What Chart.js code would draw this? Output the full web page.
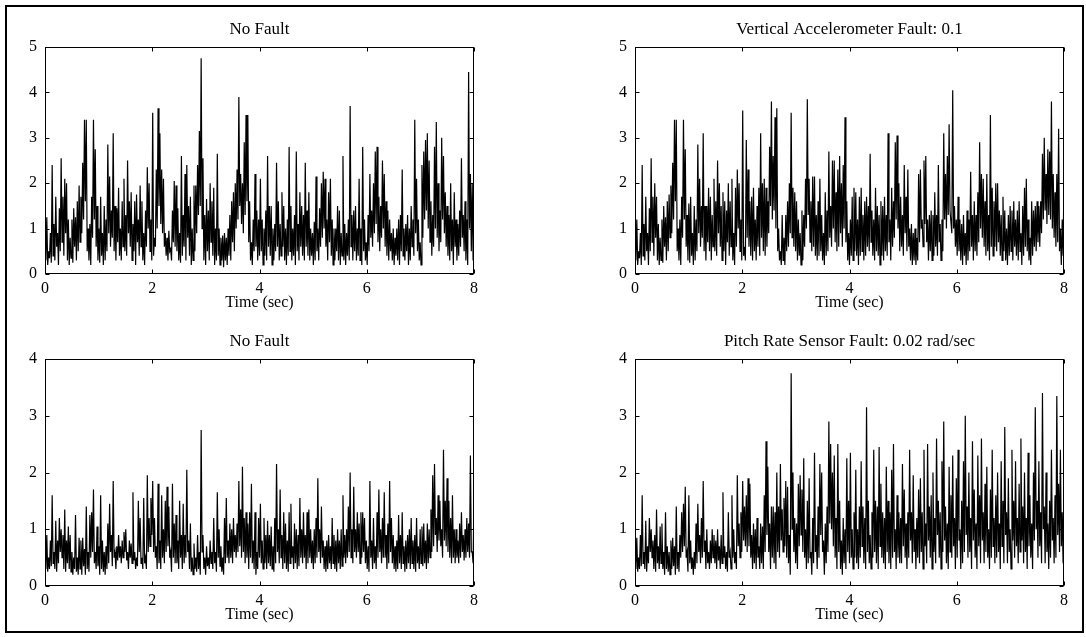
<!DOCTYPE html>
<html><head><meta charset="utf-8">
<script src="https://cdn.jsdelivr.net/npm/chart.js@4.4.1/dist/chart.umd.min.js"></script>
<style>
html,body{margin:0;padding:0;background:#fff;}
#fig{position:relative;width:1086px;height:637px;overflow:hidden;background:#fff;}
#frame{position:absolute;left:5px;top:5px;width:1075px;height:624px;border:2px solid #000;}
.pane{position:absolute;width:496px;height:318px;}
</style></head><body>
<div id="fig"><div id="frame"></div>
<div class="pane" style="left:0;top:0"><canvas id="c1" width="496" height="318"></canvas></div>
<div class="pane" style="left:590px;top:0"><canvas id="c2" width="496" height="318"></canvas></div>
<div class="pane" style="left:0;top:312px"><canvas id="c3" width="496" height="318"></canvas></div>
<div class="pane" style="left:590px;top:312px"><canvas id="c4" width="496" height="318"></canvas></div>
</div>
<script>
// ---- data ----
const timeStart = 0, timeEnd = 8;
const xTickValues = [0, 2, 4, 6, 8];
const yTicksTop = [0, 1, 2, 3, 4, 5];
const yTicksBottom = [0, 1, 2, 3, 4];
const panelTitles = ['No Fault', 'Vertical Accelerometer Fault: 0.1', 'No Fault', 'Pitch Rate Sensor Fault: 0.02 rad/sec'];
const xAxisTitle = 'Time (sec)';

const noFaultTop = [
0.7,0.3,1.25,0.2,0.5,0.35,0.9,0.25,2.4,0.4,1.1,0.3,1.7,0.6,0.9,0.2,1.45,0.5,2.55,0.7,1.7,0.4,2.1,0.9,2.0,0.3,1.2,0.2,0.8,0.35,1.2,0.25,1.45,0.6,1.25,0.3,1.6,0.5,1.95,0.7,1.7,0.9,2.45,1.2,3.4,1.6,3.4,0.5,1.0,0.3,1.1,0.2,1.7,0.8,3.4,1.2,2.75,0.6,1.5,0.3,1.0,0.25,1.7,0.4,0.9,0.2,1.5,0.3,1.2,0.5,2.85,0.9,2.15,0.6,1.4,0.8,3.1,0.5,1.5,0.3,1.45,0.7,1.9,0.4,1.0,0.3,1.6,0.6,2.1,0.5,1.3,0.4,2.5,0.9,1.6,0.6,1.8,0.3,1.1,0.5,1.6,0.2,1.75,0.7,1.2,0.4,1.95,0.6,1.6,0.3,0.9,0.2,1.4,0.6,2.35,1.0,2.0,0.5,1.2,0.3,3.55,0.4,0.8,0.6,2.3,1.0,3.65,1.5,3.1,1.1,2.3,0.9,2.1,0.6,0.9,0.4,0.8,0.3,0.95,0.5,0.55,0.3,1.4,0.7,2.05,0.6,
1.95,0.5,1.45,0.3,0.9,0.25,2.6,0.4,1.3,0.6,2.2,0.3,2.4,0.8,1.5,0.4,1.7,0.2,1.0,0.3,1.95,0.5,1.95,0.9,2.4,1.3,3.15,1.5,4.75,1.0,2.55,0.3,1.3,0.2,1.65,0.5,1.4,0.3,2.0,0.7,1.6,0.4,1.9,0.2,1.0,0.3,2.65,0.4,1.0,0.2,0.8,0.3,0.85,0.15,0.9,0.3,0.8,0.2,1.0,0.4,1.3,0.3,1.6,0.7,1.8,0.5,2.0,1.0,2.3,1.2,3.9,1.5,2.2,1.1,2.0,0.9,2.9,1.3,3.5,1.6,3.5,0.7,1.6,0.3,0.7,0.2,1.2,0.5,2.2,0.6,1.4,0.3,1.2,0.4,2.1,0.5,1.2,0.2,1.0,0.4,1.4,0.3,2.6,0.6,1.5,0.4,1.5,0.2,1.0,0.3,1.1,0.5,2.45,0.6,1.6,0.3,1.1,0.4,1.8,0.6,1.5,0.3,1.0,0.2,1.2,0.4,2.8,0.5,1.5,0.3,1.0,0.4,1.3,0.2,2.7,0.5,1.1,0.3,1.8,0.6,1.5,0.4,1.3,0.3,2.45,0.6,1.4,0.4,1.8,0.3,
1.0,0.4,0.9,0.2,1.15,0.3,2.15,0.5,1.0,0.3,1.45,0.6,2.0,0.8,2.25,1.0,2.1,0.6,1.2,0.3,1.8,0.7,2.1,0.4,1.2,0.2,1.0,0.3,1.0,0.5,1.5,0.3,1.4,0.2,0.9,0.4,2.6,0.3,1.1,0.2,0.9,0.4,1.2,0.3,3.7,0.6,1.3,0.3,1.4,0.5,1.5,0.3,1.0,0.4,2.1,0.3,1.0,0.2,2.8,0.5,1.2,0.3,0.7,0.2,1.3,0.5,2.2,0.8,1.4,0.6,2.0,0.9,2.7,1.1,2.8,0.7,1.7,0.5,1.5,0.8,2.5,1.0,2.2,0.6,1.6,0.4,1.4,0.3,1.2,0.5,0.9,0.3,1.0,0.2,0.8,0.4,1.0,0.3,1.2,0.2,1.3,0.5,2.3,0.4,1.0,0.3,1.1,0.5,1.3,0.2,1.0,0.3,1.5,0.6,1.2,0.4,3.4,0.9,2.1,0.5,1.2,0.3,0.7,0.2,2.4,0.8,2.7,1.2,2.95,1.4,3.1,1.0,2.5,0.7,1.6,0.4,1.3,0.6,2.8,1.0,3.35,0.8,2.0,0.5,1.4,0.7,3.0,1.2,2.6,0.9,1.8,0.6,1.5,0.4,1.3,0.3,2.0,0.5,1.2,0.2,1.8,0.6,1.2,0.3,1.1,0.4,1.4,0.6,2.55,0.8,1.3,0.5,1.6,0.3,1.2,0.2,4.45,1.0,2.2,0.5,2.0,0.3,1.3
];

const accelFault = [
0.7,0.3,1.2,0.2,0.5,0.35,0.9,0.2,2.4,0.4,1.1,0.3,1.7,0.5,0.9,0.2,1.45,0.5,2.55,0.7,1.7,0.4,2.0,0.8,1.7,0.3,1.1,0.2,0.8,0.3,1.2,0.25,1.5,0.6,1.25,0.3,1.6,0.5,1.75,0.8,1.95,0.9,2.45,1.2,3.4,1.6,3.4,0.5,1.0,0.3,1.2,0.2,1.7,0.8,3.4,1.2,2.75,0.6,1.3,0.3,1.55,0.25,1.7,0.4,0.9,0.2,1.5,0.3,1.2,0.5,2.85,0.9,2.1,0.6,1.5,0.8,3.1,0.5,1.5,0.3,1.5,0.7,1.9,0.5,1.7,0.3,1.3,0.6,2.1,0.5,1.6,0.4,2.5,0.9,2.0,0.6,1.5,0.3,1.8,0.5,1.6,0.2,1.4,0.7,2.0,0.4,1.6,0.6,2.1,0.3,0.9,0.2,1.9,0.6,2.3,1.0,2.0,0.5,1.2,0.3,3.6,0.4,0.6,0.3,2.95,0.8,2.3,0.6,1.6,0.4,1.7,0.3,1.9,0.5,1.2,0.3,1.5,0.6,1.9,0.4,3.1,0.8,2.0,0.5,2.1,0.4,
1.9,0.6,1.6,0.9,2.8,1.5,3.8,1.2,2.6,1.4,3.45,1.0,3.65,0.5,1.0,0.3,0.5,0.2,1.3,0.3,0.8,0.2,1.3,0.5,1.6,0.6,2.0,0.9,3.55,0.8,1.9,0.6,1.8,0.5,1.6,0.3,1.2,0.4,0.9,0.2,1.4,0.3,1.3,0.6,2.1,1.0,3.85,1.3,2.1,0.7,1.6,0.5,2.15,0.6,2.15,0.4,1.3,0.3,1.6,0.4,2.1,0.5,1.3,0.3,0.9,0.2,1.8,0.4,1.4,0.5,2.7,0.8,1.5,0.6,2.5,1.0,2.5,0.7,1.8,0.5,2.3,0.6,2.6,0.9,2.0,0.6,2.4,1.0,3.45,0.7,1.6,0.3,0.9,0.2,1.2,0.4,1.7,0.3,1.9,0.5,1.8,0.4,1.2,0.2,1.7,0.4,1.9,0.5,1.3,0.3,1.6,0.4,1.7,0.6,1.5,0.5,2.65,0.7,1.4,0.4,1.2,0.3,1.9,0.5,1.5,0.4,1.3,0.2,1.6,0.4,1.5,0.3,1.7,0.5,1.3,0.4,3.1,0.7,1.2,0.3,1.9,0.6,1.6,0.8,2.9,1.2,3.05,1.0,2.0,0.5,
1.7,0.6,1.3,0.4,2.4,0.9,1.7,0.5,2.3,0.6,1.0,0.3,1.1,0.2,0.9,0.3,1.0,0.2,0.8,0.3,2.2,0.7,2.3,1.0,1.2,0.6,2.5,1.1,2.6,0.7,1.2,0.3,1.3,0.5,1.4,0.3,1.3,0.4,1.8,0.6,1.3,0.4,2.4,0.7,1.1,0.3,1.2,0.5,3.1,1.2,2.2,1.0,2.6,1.3,3.3,1.4,1.4,0.9,4.05,1.0,1.5,0.6,1.2,0.4,1.7,0.5,1.2,0.3,1.1,0.2,1.3,0.4,0.9,0.2,1.4,0.3,1.2,0.5,2.25,0.6,1.3,0.3,1.6,0.5,1.3,0.4,1.8,0.7,2.9,1.0,2.2,0.8,2.1,0.6,1.6,0.4,2.2,0.5,1.3,0.3,3.5,0.6,1.9,0.4,1.6,0.6,2.0,0.5,2.0,0.7,1.4,0.4,1.3,0.3,1.7,0.5,1.4,0.3,1.0,0.2,1.3,0.4,1.5,0.5,1.4,0.3,1.6,0.6,1.2,0.4,1.4,0.3,1.6,0.5,0.9,0.2,1.5,0.4,1.9,0.6,2.1,0.5,1.2,0.3,0.8,0.2,1.6,0.4,1.4,0.6,1.5,0.5,1.6,0.7,1.5,0.6,1.6,0.9,2.65,1.2,3.0,1.4,2.2,1.1,2.75,1.3,2.7,1.2,3.8,1.0,2.2,0.8,1.8,0.6,2.2,0.7,3.2,0.5,1.0,0.2,1.2,0.4,2.2
];

const noFaultBottom = [
0.45,0.3,0.9,0.25,0.5,0.3,0.8,0.35,1.6,0.4,0.6,0.3,1.15,0.25,0.8,0.4,1.2,0.6,1.0,0.5,0.9,0.3,1.35,0.25,0.8,0.4,1.05,0.3,0.9,0.25,0.6,0.2,0.5,0.3,1.25,0.25,0.5,0.2,0.85,0.3,0.8,0.2,0.85,0.35,0.65,0.2,1.4,0.3,0.6,0.25,1.25,0.5,1.3,0.6,1.7,0.4,0.6,0.3,1.05,0.35,0.7,0.2,1.6,0.3,0.8,0.25,0.6,0.2,0.7,0.3,1.1,0.4,1.45,0.6,0.9,0.35,1.85,0.5,0.6,0.3,0.7,0.45,0.9,0.5,0.7,0.4,0.8,0.5,0.95,0.6,1.0,0.45,0.6,0.3,0.8,0.5,0.75,0.4,1.65,0.45,0.6,0.3,0.5,0.35,1.5,0.6,1.2,0.4,0.5,0.3,1.55,0.4,0.5,0.3,1.95,0.6,1.2,0.7,1.55,0.9,1.85,0.6,1.2,0.5,0.7,0.3,1.8,0.4,0.8,0.3,1.6,0.5,1.0,0.4,1.5,0.6,1.75,0.7,1.4,0.5,0.6,0.25,1.8,0.5,1.1,0.4,
1.25,0.4,0.8,0.3,1.5,0.5,0.9,0.3,1.45,0.4,0.9,0.5,2.05,0.6,0.8,0.3,1.1,0.25,0.5,0.2,0.75,0.3,0.5,0.25,0.9,0.3,0.6,0.2,2.75,0.6,0.9,0.3,0.5,0.2,0.7,0.35,0.5,0.3,0.8,0.4,0.6,0.3,1.2,0.4,0.6,0.25,1.65,0.5,1.0,0.35,0.7,0.25,0.5,0.2,1.2,0.4,1.55,0.5,0.8,0.4,1.1,0.5,1.0,0.4,1.2,0.6,0.9,0.5,1.1,0.6,1.85,0.7,1.35,0.5,2.1,0.6,1.2,0.4,1.3,0.5,1.1,0.3,1.3,0.5,1.8,0.4,0.8,0.3,1.3,0.2,0.6,0.3,1.2,0.5,1.45,0.4,0.8,0.3,1.2,0.4,0.9,0.3,1.15,0.4,0.9,0.35,1.05,0.3,0.7,0.25,1.2,0.4,2.15,0.6,1.0,0.4,1.7,0.5,0.9,0.3,1.3,0.4,1.1,0.3,0.8,0.25,1.3,0.4,1.45,0.5,0.7,0.3,1.1,0.4,1.0,0.3,0.9,0.35,1.55,0.5,1.0,0.4,1.3,0.5,0.9,0.3,1.3,0.4,1.35,0.5,
1.0,0.4,0.8,0.3,1.0,0.4,1.2,0.5,1.9,0.6,1.0,0.4,1.4,0.5,0.8,0.3,0.7,0.25,0.8,0.3,0.9,0.4,0.7,0.3,1.2,0.4,0.9,0.3,0.8,0.25,1.0,0.4,0.8,0.3,1.0,0.35,1.6,0.5,0.9,0.4,1.0,0.5,1.4,0.6,2.0,0.5,1.0,0.4,1.75,0.6,1.0,0.5,1.3,0.6,1.1,0.4,1.3,0.5,1.3,0.6,1.2,0.4,0.8,0.3,0.7,0.25,1.85,0.5,0.8,0.3,1.2,0.4,0.7,0.3,1.3,0.5,1.7,0.6,1.0,0.4,1.2,0.5,1.65,0.5,0.9,0.3,1.1,0.4,1.85,0.6,1.2,0.4,0.9,0.3,0.7,0.25,0.8,0.3,1.25,0.4,0.9,0.3,1.3,0.4,0.7,0.25,0.8,0.3,0.9,0.4,1.0,0.3,1.2,0.4,0.8,0.3,0.9,0.25,1.2,0.4,0.7,0.3,1.0,0.4,1.05,0.35,1.1,0.4,0.8,0.3,1.1,0.4,1.0,0.5,1.35,0.6,1.95,0.7,2.15,0.9,1.2,0.6,1.6,0.8,1.5,0.7,1.0,0.5,2.4,0.8,1.5,0.7,1.9,0.6,1.5,0.5,1.2,0.4,1.6,0.5,1.0,0.4,1.0,0.5,0.8,0.4,1.1,0.5,1.3,0.6,0.9,0.45,1.0,0.5,1.2,0.6,1.1,0.5,2.3,0.6,0.6,0.4,1.6
];

const pitchFault = [
0.5,0.3,0.85,0.25,0.5,0.3,0.9,0.35,1.6,0.4,0.6,0.3,1.15,0.25,0.7,0.4,1.2,0.6,1.0,0.5,0.8,0.3,0.9,0.25,1.35,0.4,0.7,0.3,1.05,0.4,1.1,0.3,0.6,0.2,1.3,0.3,0.7,0.25,0.6,0.2,0.8,0.3,0.85,0.35,0.7,0.2,1.4,0.3,0.6,0.25,0.9,0.5,1.3,0.6,1.45,0.7,1.75,0.5,0.6,0.25,1.6,0.4,0.8,0.3,0.5,0.2,0.6,0.3,1.1,0.4,1.45,0.6,0.9,0.4,1.2,0.5,1.85,0.6,0.8,0.3,1.0,0.4,0.6,0.3,0.8,0.4,1.0,0.5,0.9,0.4,0.8,0.3,1.0,0.45,0.7,0.3,0.9,0.4,1.65,0.5,0.7,0.3,0.6,0.25,1.3,0.5,0.6,0.3,1.6,0.5,1.0,0.4,0.6,0.3,1.95,0.7,1.1,0.5,1.3,0.6,1.85,0.8,1.4,0.7,1.6,0.6,1.9,0.7,1.8,0.5,0.9,0.3,1.1,0.4,1.0,0.3,1.2,0.5,0.7,0.3,1.1,0.4,1.05,0.3,1.6,0.6,
2.55,0.9,2.1,0.6,1.1,0.3,1.4,0.5,1.4,0.4,1.3,0.3,2.0,0.6,1.4,0.5,2.15,0.8,1.35,0.6,1.55,0.7,1.85,0.5,1.75,0.4,0.9,0.2,3.75,1.0,2.0,0.6,1.2,0.4,1.1,0.3,1.8,0.7,1.95,0.9,1.7,0.6,2.25,0.5,1.0,0.3,1.5,0.4,1.9,0.5,0.6,0.2,1.2,0.4,2.35,0.6,0.9,0.3,1.4,0.5,2.15,0.9,2.0,0.6,0.8,0.2,1.1,0.4,1.4,0.6,2.9,1.1,2.5,1.0,2.0,0.7,2.3,0.5,1.2,0.3,2.5,0.6,1.5,0.3,0.8,0.2,1.2,0.4,1.0,0.3,2.25,0.6,1.5,0.4,2.35,0.5,1.0,0.3,1.3,0.5,2.05,0.4,1.0,0.3,1.4,0.5,2.2,0.7,1.4,0.4,1.2,0.3,3.15,0.6,1.5,0.4,0.9,0.3,1.3,0.5,2.4,0.6,1.5,0.4,1.4,0.3,2.45,0.7,1.8,0.5,1.3,0.4,1.2,0.3,2.1,0.6,1.5,0.4,1.3,0.3,2.05,0.5,2.5,0.6,1.0,0.3,1.6,0.5,1.3,0.4,
1.2,0.4,2.15,0.7,1.7,0.5,1.1,0.3,1.3,0.5,2.4,0.8,1.3,0.4,1.95,0.6,1.0,0.3,1.2,0.5,1.7,0.4,1.9,0.6,1.3,0.3,2.4,0.7,1.1,0.4,2.5,0.8,1.4,0.5,1.6,0.3,2.0,0.6,1.2,0.4,2.6,0.9,1.5,0.5,1.3,0.3,2.2,0.6,2.9,0.8,1.4,0.4,1.1,0.3,2.1,0.6,1.6,0.5,2.3,0.7,1.2,0.3,1.9,0.5,2.4,0.8,1.0,0.3,1.5,0.4,2.2,0.6,3.0,0.9,1.4,0.5,2.0,0.6,1.2,0.3,2.55,0.8,1.7,0.5,1.1,0.3,2.3,0.7,1.6,0.4,2.6,0.8,1.3,0.4,1.8,0.6,2.1,0.5,1.0,0.3,1.7,0.5,2.4,0.7,1.2,0.4,1.6,0.5,2.0,0.6,1.1,0.3,2.2,0.7,1.5,0.4,2.8,0.9,1.3,0.4,1.9,0.6,1.0,0.3,2.4,0.8,1.5,0.5,2.2,0.7,1.2,0.4,1.8,0.6,2.6,0.8,1.4,0.4,2.0,0.6,1.2,0.3,2.35,0.7,1.6,0.5,1.1,0.3,2.0,0.8,3.15,1.0,1.5,0.5,2.2,0.7,1.3,0.4,3.4,1.0,1.4,0.4,2.0,0.6,1.1,0.3,1.5,0.5,2.4,0.8,1.2,0.4,1.6,0.5,3.35,0.9,1.8,0.6,2.4,0.7,1.3,0.4,1.9
];

// ---- chart construction ----
Chart.defaults.font.family = '"Liberation Serif", "Times New Roman", serif';
Chart.defaults.font.size = 16;
Chart.defaults.color = '#000';

const matlabAxes = {
  id: 'matlabAxes',
  afterDraw(chart) {
    const {ctx, chartArea: a, scales: {x, y}} = chart;
    ctx.save();
    ctx.strokeStyle = '#000';
    ctx.lineWidth = 1;
    const L = Math.round(a.left) + 0.5, R = Math.round(a.right) - 0.5;
    const T = Math.round(a.top) + 0.5, B = Math.round(a.bottom) - 0.5;
    ctx.strokeRect(L, T, R - L, B - T);
    ctx.beginPath();
    const tl = 4;
    x.ticks.forEach(t => {
      const px = Math.round(x.getPixelForValue(t.value)) + 0.5;
      ctx.moveTo(px, B); ctx.lineTo(px, B - tl);
      ctx.moveTo(px, T); ctx.lineTo(px, T + tl);
    });
    y.ticks.forEach(t => {
      const py = Math.round(y.getPixelForValue(t.value)) + 0.5;
      ctx.moveTo(L, py); ctx.lineTo(L + tl, py);
      ctx.moveTo(R, py); ctx.lineTo(R - tl, py);
    });
    ctx.stroke();
    ctx.restore();
  }
};

function toPoints(values) {
  const n = values.length;
  return values.map((v, i) => ({x: timeStart + (timeEnd - timeStart) * i / (n - 1), y: v}));
}

function makeChart(id, values, title, yTicks) {
  new Chart(document.getElementById(id), {
    type: 'line',
    data: {datasets: [{data: toPoints(values), borderColor: '#000', borderWidth: 1.2, pointRadius: 0, tension: 0, fill: false}]},
    options: {
      responsive: false, animation: false, events: [],
      layout: {padding: {top: 19, left: 0, right: 22, bottom: 0}},
      plugins: {
        legend: {display: false}, tooltip: {enabled: false},
        title: {display: true, fullSize: false, text: title, color: '#000', font: {size: 17, weight: 'normal', lineHeight: 1.2}, padding: {top: 0, bottom: 7.6}}
      },
      scales: {
        x: {
          type: 'linear', min: timeStart, max: timeEnd,
          afterBuildTicks: s => { s.ticks = xTickValues.map(v => ({value: v})); },
          grid: {display: false, drawTicks: false}, border: {display: false},
          ticks: {padding: 5, color: '#000', maxRotation: 0, autoSkip: false, callback: v => String(v)},
          title: {display: true, text: xAxisTitle, color: '#000', font: {size: 16}, padding: {top: 0, bottom: 6}},
          afterFit: s => { s.height = 44; }
        },
        y: {
          type: 'linear', min: yTicks[0], max: yTicks[yTicks.length - 1],
          afterBuildTicks: s => { s.ticks = yTicks.map(v => ({value: v})); },
          grid: {display: false, drawTicks: false}, border: {display: false},
          ticks: {padding: 8, color: '#000', autoSkip: false, callback: v => String(v)},
          afterFit: s => { s.width = 45; }
        }
      }
    },
    plugins: [matlabAxes]
  });
}

makeChart('c1', noFaultTop, panelTitles[0], yTicksTop);
makeChart('c2', accelFault, panelTitles[1], yTicksTop);
makeChart('c3', noFaultBottom, panelTitles[2], yTicksBottom);
makeChart('c4', pitchFault, panelTitles[3], yTicksBottom);
</script>
</body></html>
